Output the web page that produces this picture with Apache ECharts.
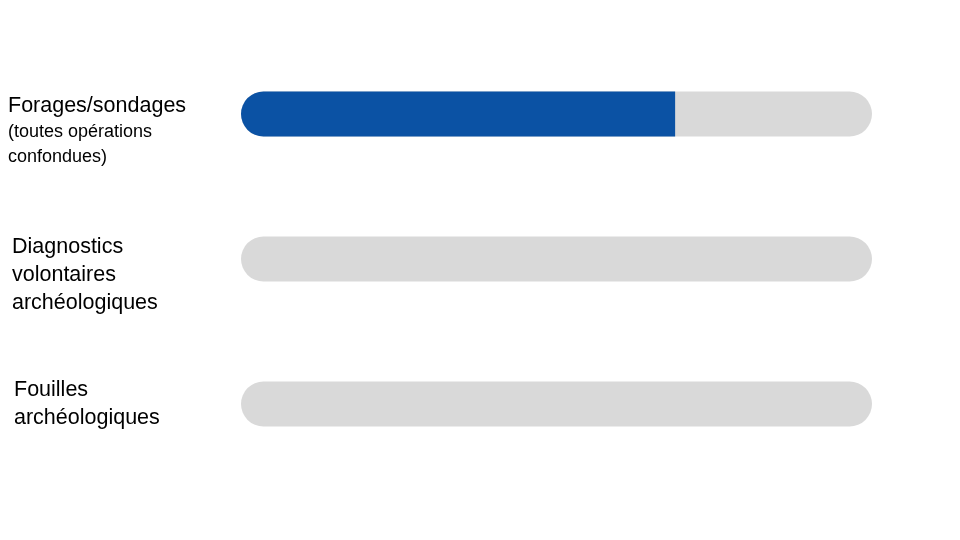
<!DOCTYPE html>
<html>
<head>
<meta charset="utf-8">
<style>html,body{margin:0;padding:0;background:#fff;}#main{width:960px;height:540px;}</style>
<script src="https://cdn.jsdelivr.net/npm/echarts@6/dist/echarts.min.js"></script>
</head>
<body>
<div id="main"></div>
<script>
// ---- data ----
const categoryLines = [
  ['Forages/sondages', '(toutes opérations', 'confondues)'],
  ['Diagnostics', 'volontaires', 'archéologiques'],
  ['Fouilles', 'archéologiques']
];
const categories = categoryLines.map(l => l.join(' '));
const values = [68.8, 0, 0];
const maxValue = 100;

// ---- label layout (styling only) ----
const lineStyleNames = [['big', 'small', 'small'], ['big', 'big', 'big'], ['big', 'big']];
const lineHeights = [[26, 27, 22], [28, 28, 28], [28.5, 28.5]];
const indents = [0, 4, 6];
const spacerTop = [33, 32, 0.5];
const spacerBottom = [0, 0, 0];

const rich = {};
function styleName(base, lh, indent) {
  const name = base + '_' + String(lh).replace('.', 'p') + '_' + indent;
  if (!rich[name]) {
    rich[name] = {
      fontFamily: 'Liberation Sans, Arial, sans-serif',
      fontSize: base === 'big' ? 21.5 : 18,
      color: '#000',
      lineHeight: lh,
      padding: [0, 0, 0, indent]
    };
  }
  return name;
}
function spacerName(h) {
  const name = 'sp_' + String(h).replace('.', 'p');
  if (!rich[name]) rich[name] = { fontSize: 1, lineHeight: h, height: h };
  return name;
}
const labelTexts = categoryLines.map((lines, i) => {
  const parts = [];
  if (spacerTop[i] > 0) parts.push('{' + spacerName(spacerTop[i]) + '| }');
  lines.forEach((t, j) => {
    parts.push('{' + styleName(lineStyleNames[i][j], lineHeights[i][j], indents[i]) + '|' + t + '}');
  });
  if (spacerBottom[i] > 0) parts.push('{' + spacerName(spacerBottom[i]) + '| }');
  return parts.join('\n');
});

const chart = echarts.init(document.getElementById('main'), null, { renderer: 'canvas' });
chart.setOption({
  animation: false,
  backgroundColor: '#ffffff',
  grid: { left: 241, right: 88, top: 41.5, bottom: 63.5, containLabel: false },
  xAxis: { type: 'value', min: 0, max: maxValue, show: false },
  yAxis: {
    type: 'category',
    inverse: true,
    data: categories,
    axisLine: { show: false },
    axisTick: { show: false },
    splitLine: { show: false },
    axisLabel: {
      interval: 0,
      align: 'left',
      verticalAlign: 'middle',
      margin: 233,
      formatter: (v, idx) => labelTexts[idx],
      rich: rich
    }
  },
  series: [{
    type: 'bar',
    data: values,
    barWidth: 45,
    showBackground: true,
    backgroundStyle: { color: '#d9d9d9', borderRadius: 22.5 },
    itemStyle: { color: '#0b52a4', borderRadius: [22.5, 0, 0, 22.5] },
    silent: true
  }]
});
</script>
</body>
</html>
